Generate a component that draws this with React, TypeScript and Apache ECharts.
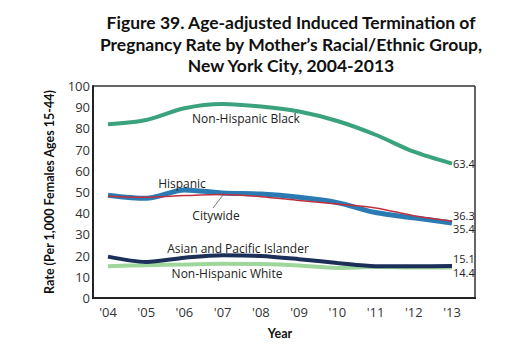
import React, { useEffect, useRef } from "react";
import * as echarts from "echarts";

const years = ["'04", "'05", "'06", "'07", "'08", "'09", "'10", "'11", "'12", "'13"];
const nhBlack = [82.0, 84.0, 89.5, 91.5, 90.3, 88.0, 83.5, 77.0, 69.0, 63.4];
const hispanic = [48.5, 47.0, 51.0, 49.5, 49.0, 47.5, 45.0, 40.3, 37.8, 35.4];
const citywide = [48.0, 47.5, 48.3, 48.8, 47.8, 46.0, 44.3, 42.5, 38.8, 36.3];
const asianPI = [19.5, 17.0, 19.0, 20.2, 19.8, 18.3, 16.5, 15.0, 15.0, 15.1];
const nhWhite = [15.0, 15.5, 15.8, 16.2, 16.0, 15.3, 14.2, 14.6, 14.4, 14.4];

const FONT = "'Open Sans', 'DejaVu Sans', sans-serif";
const BOLD = "Lato, 'Open Sans', sans-serif";

export default function App() {
  const ref = useRef<HTMLDivElement>(null);
  useEffect(() => {
    if (!ref.current) return;
    const chart = echarts.init(ref.current, null, { renderer: "svg" });
    const mk = (name: string, data: number[], color: string, width: number, endOffset: number, z: number) => ({
      name,
      type: "line",
      data,
      smooth: 0.3,
      showSymbol: false,
      z,
      lineStyle: { color, width },
      itemStyle: { color },
      endLabel: {
        show: true,
        formatter: (p: any) => Number(p.value).toFixed(1),
        distance: 1,
        offset: [0, endOffset],
        fontSize: 11,
        lineHeight: 11,
        color: "#222",
        fontFamily: FONT,
      },
    });
    const txt = (x: number, y: number, s: string) => ({
      type: "text",
      x,
      y,
      style: { text: s, fill: "#222", font: `12px ${FONT}`, textAlign: "center", textVerticalAlign: "middle" },
      z: 10,
    });
    chart.setOption({
      animation: false,
      title: {
        text: "Figure 39. Age-adjusted Induced Termination of\nPregnancy Rate by Mother\u2019s Racial/Ethnic Group,\nNew York City, 2004-2013",
        left: 286,
        top: 7,
        textAlign: "center",
        textStyle: { fontFamily: BOLD, fontWeight: "bold", fontSize: 17.5, lineHeight: 21.5, color: "#111" },
      },
      grid: { left: 108, right: 58, top: 86, bottom: 54 },
      xAxis: {
        type: "category",
        data: years,
        boundaryGap: false,
        axisLine: { show: false },
        axisTick: { show: false },
        axisLabel: { fontFamily: FONT, fontSize: 13, color: "#333", margin: 7 },
        name: "Year",
        nameLocation: "middle",
        nameGap: 29,
        nameTextStyle: { fontFamily: BOLD, fontWeight: "bold", fontSize: 12.5, color: "#111" },
      },
      yAxis: {
        type: "value",
        min: 0,
        max: 100,
        interval: 10,
        splitLine: { show: false },
        axisLine: { show: false },
        axisTick: { show: false },
        axisLabel: { fontFamily: FONT, fontSize: 13, color: "#333", margin: 18 },
        name: "Rate (Per 1,000 Females Ages 15-44)",
        nameLocation: "middle",
        nameRotate: 90,
        nameGap: 52,
        nameTextStyle: { fontFamily: BOLD, fontWeight: "bold", fontSize: 12.5, color: "#111" },
      },
      series: [
        mk("Non-Hispanic White", nhWhite, "#9fd69b", 4, 5, 2),
        mk("Asian and Pacific Islander", asianPI, "#1b2f58", 4, -7, 3),
        mk("Non-Hispanic Black", nhBlack, "#3aa27c", 4, 0, 3),
        mk("Hispanic", hispanic, "#2a7bb3", 5, 6, 4),
        mk("Citywide", citywide, "#c0303c", 1.5, -6, 5),
      ],
      graphic: [
        { type: "line", shape: { x1: 93, y1: 86, x2: 475, y2: 86 }, style: { stroke: "#333", lineWidth: 1.5 }, z: 20 },
        { type: "line", shape: { x1: 475, y1: 86, x2: 475, y2: 298 }, style: { stroke: "#333", lineWidth: 1.5 }, z: 20 },
        { type: "line", shape: { x1: 93, y1: 85.3, x2: 93, y2: 298 }, style: { stroke: "#222", lineWidth: 2 }, z: 20 },
        { type: "line", shape: { x1: 92, y1: 298, x2: 476, y2: 298 }, style: { stroke: "#222", lineWidth: 2 }, z: 20 },
        txt(246, 118, "Non-Hispanic Black"),
        txt(182, 183, "Hispanic"),
        txt(216, 215, "Citywide"),
        txt(238, 248, "Asian and Pacific Islander"),
        txt(227, 273, "Non-Hispanic White"),
        { type: "line", shape: { x1: 223, y1: 195, x2: 213, y2: 208 }, style: { stroke: "#555", lineWidth: 0.8 }, z: 10 },
      ],
    });
    return () => chart.dispose();
  }, []);
  return <div ref={ref} style={{ position: "fixed", left: 0, top: 0, width: 510, height: 352, background: "#fff" }} />;
}
